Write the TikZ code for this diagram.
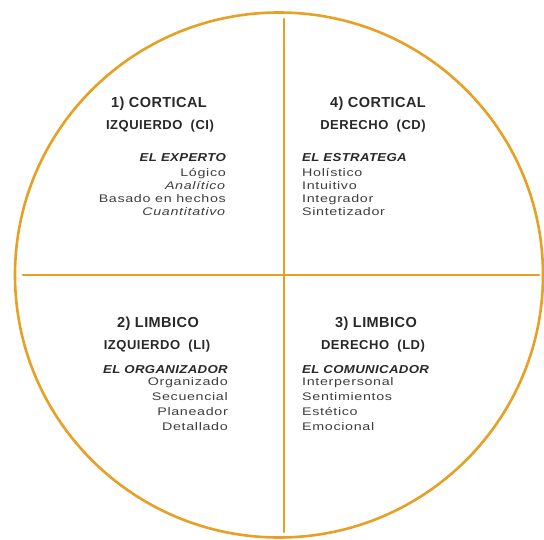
\documentclass[tikz,border=0pt]{standalone}
\usepackage{fontspec}
\setmainfont{Liberation Sans}
\newfontfamily\titfont[LetterSpace=3]{Liberation Sans}
\newfontfamily\subfont[LetterSpace=4]{Liberation Sans}
\newfontfamily\rolfont[LetterSpace=3,FakeStretch=1.15]{Liberation Sans}
\newfontfamily\itemfont[LetterSpace=6,FakeStretch=1.3]{Liberation Sans}
\definecolor{oro}{RGB}{230,160,35}
\definecolor{tinta}{RGB}{40,40,40}
\definecolor{gris}{RGB}{62,62,62}
\begin{document}
\begin{tikzpicture}[x=1pt,y=-1pt, line join=round, line cap=round,
    titulo/.style={anchor=base, inner sep=0pt, text=tinta, font=\titfont\fontsize{14.5}{16}\selectfont\bfseries},
    sub/.style={anchor=base, inner sep=0pt, text=tinta, font=\subfont\fontsize{13}{14}\selectfont\bfseries},
    rol/.style={inner sep=0pt, text=tinta, font=\rolfont\fontsize{11.5}{13}\selectfont\bfseries\itshape},
    item/.style={inner sep=0pt, text=gris, font=\itemfont\fontsize{11}{13}\selectfont},
    borde/.style={oro, line width=2.6}]
    \def\cx{279} \def\cy{275}
    \def\rx{264} \def\ry{262.5}
    \useasboundingbox (0,0) rectangle (544,539);
    %\draw[color=gray!50,dashed] (0,0) grid[step=50] (544,539);
    \coordinate (arriba) at (284,19);
    \coordinate (abajo) at (284,532);
    \coordinate (izq) at (23,275);
    \coordinate (der) at (539,275);
    \draw[borde] (\cx,\cy) ellipse [x radius=\rx, y radius=\ry];
    \draw[borde] (arriba)--(abajo);
    \draw[borde] (izq)--(der);
    % 1) cortical izquierdo
    \node[titulo] (ci-t) at (159,107) {1) CORTICAL};
    \node[sub] (ci-s) at (160,129) {IZQUIERDO\ \ (CI)};
    \node[rol, anchor=base east] (ci-r) at (226,161) {EL EXPERTO};
    \foreach \t [count=\i] in {Lógico,\textit{Analítico},Basado en hechos,\textit{Cuantitativo}}
    \node[item, anchor=base east] (ci-\i) at (226,163+13*\i) {\t};
    % 4) cortical derecho
    \node[titulo] (cd-t) at (378,107) {4) CORTICAL};
    \node[sub] (cd-s) at (373,129) {DERECHO\ \ (CD)};
    \node[rol, anchor=base west] (cd-r) at (302,161) {EL ESTRATEGA};
    \foreach \t [count=\i] in {Holístico,Intuitivo,Integrador,Sintetizador}
    \node[item, anchor=base west] (cd-\i) at (302,163+13*\i) {\t};
    % 2) limbico izquierdo
    \node[titulo] (li-t) at (158,327) {2) LIMBICO};
    \node[sub] (li-s) at (157,349) {IZQUIERDO\ \ (LI)};
    \node[rol, anchor=base east] (li-r) at (228,373) {EL ORGANIZADOR};
    \foreach \t [count=\i] in {Organizado,Secuencial,Planeador,Detallado}
    \node[item, anchor=base east] (li-\i) at (228,370+15*\i) {\t};
    % 3) limbico derecho
    \node[titulo] (ld-t) at (376,327) {3) LIMBICO};
    \node[sub] (ld-s) at (373,349) {DERECHO\ \ (LD)};
    \node[rol, anchor=base west] (ld-r) at (302,373) {EL COMUNICADOR};
    \foreach \t [count=\i] in {Interpersonal,Sentimientos,Estético,Emocional}
    \node[item, anchor=base west] (ld-\i) at (302,370+15*\i) {\t};
\end{tikzpicture}
\end{document}
